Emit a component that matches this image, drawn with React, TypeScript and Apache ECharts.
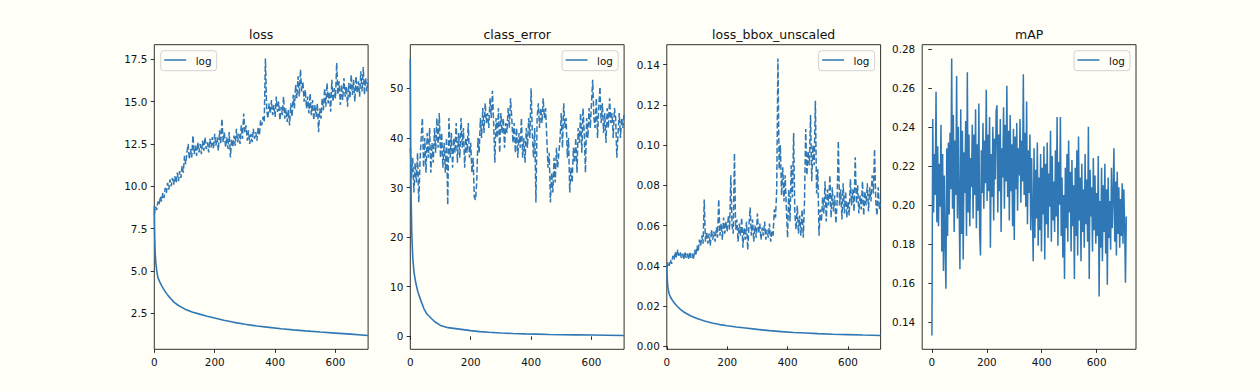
import React, { useEffect, useRef } from "react";
import * as echarts from "echarts";

// ---------------- data ----------------
const TEST_STEP = 4; // dashed (test) series: one value every 4 epochs
const MAP_STEP = 3; // mAP: one value every 3 epochs
const X_LAST = 708;

const subplotTitles = ["loss", "class_error", "loss_bbox_unscaled", "mAP"];
const legendLabel = "log";

const xTicks = [0, 200, 400, 600];
const lossTicks = [2.5, 5, 7.5, 10, 12.5, 15, 17.5];
const classErrorTicks = [0, 10, 20, 30, 40, 50];
const bboxTicks = [0, 0.02, 0.04, 0.06, 0.08, 0.1, 0.12, 0.14];
const mapTicks = [0.14, 0.16, 0.18, 0.2, 0.22, 0.24, 0.26, 0.28];

const trainEpochs = [0, 1, 2, 3, 5, 8, 12, 18, 25, 35, 45, 55, 65, 80, 100, 125, 150, 175, 200, 230, 260, 300, 340, 380, 420, 460, 500, 550, 600, 650, 708];

const trainLoss = [8.8, 7.4, 6.6, 6.0, 5.5, 5.0, 4.6, 4.35, 4.1, 3.8, 3.55, 3.35, 3.15, 2.95, 2.75, 2.57, 2.44, 2.32, 2.21, 2.08, 1.97, 1.84, 1.74, 1.66, 1.58, 1.51, 1.45, 1.38, 1.32, 1.26, 1.18];

const testLoss = [
  8.3, 8.8, 8.6, 9.1, 8.9, 9.4, 9.1, 9.6, 9.3, 9.9,
  9.6, 10.2, 9.8, 10.4, 10.0, 10.5, 10.1, 10.6, 10.2, 10.8,
  10.3, 10.9, 10.5, 11.2, 10.8, 11.8, 11.3, 12.0, 12.5, 11.6,
  12.2, 11.7, 13.0, 11.9, 12.4, 11.8, 12.6, 12.0, 12.5, 11.9,
  12.7, 12.1, 12.9, 12.2, 12.6, 12.0, 12.8, 12.3, 12.9, 12.2,
  13.1, 12.4, 12.9, 12.1, 13.3, 12.5, 14.0, 12.6, 13.2, 12.3,
  12.9, 12.2, 13.2, 11.7, 12.8, 12.3, 13.0, 12.4, 13.4, 12.6,
  13.1, 12.5, 13.6, 12.8, 14.3, 13.2, 13.6, 12.7, 13.3, 12.5,
  13.1, 12.6, 13.4, 12.8, 13.2, 12.7, 13.5, 13.0, 13.9, 13.6,
  14.1, 13.8, 17.55, 14.6, 14.0, 14.9, 14.3, 15.1, 14.2, 14.8,
  14.1, 15.3, 14.4, 15.0, 13.9, 14.7, 14.2, 15.3, 14.0, 14.6,
  13.8, 14.5, 13.6, 14.9, 14.1, 15.4, 14.6, 16.0, 15.2, 16.5,
  15.3, 16.9, 15.6, 16.2, 15.0, 15.7, 14.6, 15.3, 14.3, 15.5,
  14.2, 15.1, 13.9, 14.8, 14.1, 14.9, 13.2, 14.6, 14.0, 15.2,
  14.5, 15.8, 14.7, 16.1, 14.9, 15.6, 14.4, 16.3, 15.0, 15.8,
  15.2, 17.3, 15.4, 16.2, 14.8, 16.0, 15.1, 16.4, 15.3, 15.9,
  14.7, 16.1, 15.2, 16.6, 15.4, 16.3, 15.0, 16.5, 15.5, 16.2,
  15.3, 16.8, 15.6, 17.05, 15.4, 16.4, 15.6, 16.3,
];

const trainClassError = [56, 42, 33, 27, 20.5, 16, 13, 10.8, 9, 7.2, 5.6, 4.5, 3.9, 3.0, 2.2, 1.75, 1.55, 1.35, 1.15, 0.95, 0.82, 0.68, 0.58, 0.5, 0.44, 0.38, 0.33, 0.29, 0.26, 0.22, 0.18];

const testClassError = [
  38, 32, 36, 29, 35, 31, 37, 27, 35, 40,
  44, 34, 40, 33, 41, 36, 42, 33, 39, 35,
  42, 37, 44, 38, 45, 36, 41, 34, 39, 33,
  40, 26.5, 44, 36, 41, 34, 40, 37, 43, 35,
  41, 36, 44, 38, 42, 34, 40, 37, 43, 36,
  39, 33, 36, 28, 27.5, 31, 40, 37, 44, 40,
  46, 41, 47, 43, 45, 42, 48, 44, 49.5, 43,
  35, 44, 40, 46, 37, 45, 41, 44, 38, 43,
  41, 46, 42, 48, 44, 39, 43, 37, 42, 36,
  41, 38, 44, 36, 40, 35, 42, 38, 44, 40,
  50, 41, 36, 42, 27, 44, 47, 42, 46, 43,
  48, 44, 46, 40, 34, 37, 27, 33, 29, 36,
  31, 38, 34, 37, 40, 45, 38, 47, 42, 44,
  36, 40, 29, 34, 31, 38, 35, 40, 33, 42,
  39, 45, 37, 46, 41, 33, 44, 40, 46, 42,
  47, 51.7, 44, 42, 48, 40, 46, 50.3, 43, 47,
  41, 45, 39, 46, 42, 48, 43, 45, 40, 46,
  44, 36, 41, 45, 40, 44, 42, 45,
];

const trainBbox = [0.04, 0.035, 0.032, 0.03, 0.028, 0.026, 0.0245, 0.023, 0.0215, 0.0198, 0.0184, 0.0172, 0.0163, 0.0151, 0.0138, 0.0126, 0.0116, 0.0108, 0.0102, 0.0096, 0.0091, 0.0084, 0.0078, 0.0073, 0.0069, 0.0066, 0.0063, 0.006, 0.0058, 0.0056, 0.0054];

const testBbox = [
  0.039, 0.042, 0.04, 0.043, 0.041, 0.045, 0.043, 0.047, 0.044, 0.048,
  0.045, 0.047, 0.044, 0.046, 0.043, 0.047, 0.044, 0.046, 0.043, 0.047,
  0.044, 0.046, 0.043, 0.048, 0.045, 0.05, 0.047, 0.053, 0.05, 0.055,
  0.051, 0.073, 0.052, 0.057, 0.051, 0.056, 0.05, 0.058, 0.053, 0.057,
  0.052, 0.059, 0.054, 0.073, 0.055, 0.061, 0.053, 0.064, 0.056, 0.062,
  0.057, 0.065, 0.058, 0.085, 0.06, 0.056, 0.096, 0.058, 0.063, 0.052,
  0.061, 0.055, 0.064, 0.049, 0.059, 0.053, 0.062, 0.048, 0.06, 0.069,
  0.055, 0.063, 0.052, 0.06, 0.054, 0.066, 0.056, 0.061, 0.053, 0.059,
  0.055, 0.062, 0.053, 0.058, 0.054, 0.061, 0.052, 0.057, 0.055, 0.068,
  0.064, 0.078, 0.143, 0.088, 0.1, 0.075, 0.089, 0.072, 0.085, 0.068,
  0.054, 0.078, 0.062, 0.09, 0.074, 0.106, 0.066, 0.058, 0.07, 0.056,
  0.065, 0.055, 0.068, 0.054, 0.072, 0.108, 0.085, 0.097, 0.09, 0.115,
  0.082, 0.1, 0.09, 0.122, 0.076, 0.088, 0.055, 0.068, 0.062, 0.074,
  0.066, 0.082, 0.062, 0.078, 0.07, 0.085, 0.064, 0.079, 0.067, 0.075,
  0.061, 0.072, 0.102, 0.07, 0.078, 0.063, 0.081, 0.066, 0.077, 0.064,
  0.072, 0.065, 0.083, 0.07, 0.078, 0.067, 0.094, 0.071, 0.08, 0.066,
  0.075, 0.068, 0.082, 0.065, 0.077, 0.07, 0.081, 0.067, 0.079, 0.072,
  0.085, 0.076, 0.098, 0.072, 0.065, 0.079, 0.068, 0.073,
];

const mapValues = [
  0.133, 0.244, 0.196, 0.226, 0.205, 0.258, 0.191, 0.23, 0.189, 0.221,
  0.199, 0.241, 0.176, 0.226, 0.166, 0.215, 0.18, 0.157, 0.229, 0.184,
  0.232, 0.195, 0.237, 0.208, 0.275, 0.198, 0.246, 0.186, 0.233, 0.205,
  0.266, 0.193, 0.24, 0.201, 0.167, 0.249, 0.185, 0.238, 0.172, 0.227,
  0.206, 0.243, 0.184, 0.268, 0.196, 0.236, 0.189, 0.224, 0.209, 0.241,
  0.193, 0.236, 0.205, 0.249, 0.188, 0.231, 0.197, 0.252, 0.185, 0.174,
  0.228, 0.206, 0.242, 0.198, 0.233, 0.211, 0.259, 0.202, 0.236, 0.207,
  0.245, 0.178, 0.226, 0.204, 0.24, 0.192, 0.234, 0.213, 0.248, 0.251,
  0.196, 0.236, 0.207, 0.244, 0.186, 0.229, 0.214, 0.25, 0.198, 0.241,
  0.212, 0.261, 0.204, 0.238, 0.192, 0.246, 0.207, 0.231, 0.189, 0.239,
  0.182, 0.235, 0.208, 0.242, 0.197, 0.229, 0.215, 0.244, 0.201, 0.233,
  0.212, 0.267, 0.205, 0.237, 0.199, 0.253, 0.19, 0.228, 0.206, 0.236,
  0.187, 0.224, 0.196, 0.171, 0.229, 0.183, 0.218, 0.193, 0.232, 0.179,
  0.214, 0.187, 0.226, 0.176, 0.219, 0.195, 0.23, 0.172, 0.221, 0.19,
  0.232, 0.183, 0.216, 0.199, 0.238, 0.181, 0.225, 0.192, 0.212, 0.186,
  0.228, 0.194, 0.245, 0.179, 0.222, 0.2, 0.245, 0.184, 0.214, 0.173,
  0.205, 0.162, 0.219, 0.188, 0.226, 0.181, 0.233, 0.196, 0.217, 0.176,
  0.223, 0.189, 0.21, 0.162, 0.219, 0.184, 0.228, 0.174, 0.235, 0.192,
  0.214, 0.171, 0.221, 0.186, 0.208, 0.178, 0.226, 0.19, 0.213, 0.181,
  0.24, 0.162, 0.218, 0.194, 0.209, 0.176, 0.224, 0.187, 0.215, 0.18,
  0.206, 0.184, 0.225, 0.153, 0.202, 0.178, 0.219, 0.171, 0.21, 0.186,
  0.221, 0.175, 0.208, 0.159, 0.214, 0.183, 0.202, 0.177, 0.219, 0.188,
  0.205, 0.229, 0.181, 0.212, 0.174, 0.217, 0.185, 0.209, 0.178, 0.203,
  0.184, 0.211, 0.18, 0.208, 0.19, 0.16, 0.194,
];

// ---------------- style / layout ----------------
const BG = "#fffef7";
const LINE = "#2f78b5";
const FONT = "DejaVu Sans, sans-serif";
const GRID_LEFTS = [154.3, 410.3, 666.8, 922.2];
const GRID_TOP = 44.7;
const GRID_W = 213.8;
const GRID_H = 304.6;

function padExtent(values: number[], frac = 0.05): [number, number] {
  const lo = Math.min(...values);
  const hi = Math.max(...values);
  const p = (hi - lo) * frac;
  return [lo - p, hi + p];
}

const sampled = (vals: number[], step: number) => vals.map((v, i) => [i * step, v]);
const paired = (xs: number[], vals: number[]) => vals.map((v, i) => [xs[i], v]);

export default function App() {
  const ref = useRef<HTMLDivElement>(null);

  useEffect(() => {
    document.body.style.margin = "0";
    document.body.style.background = BG;
    const chart = echarts.init(ref.current!, null, { renderer: "svg" });

    const panels = [
      { title: subplotTitles[0], train: trainLoss, test: testLoss, step: TEST_STEP, ticks: lossTicks, dec: 1, legend: "left" },
      { title: subplotTitles[1], train: trainClassError, test: testClassError, step: TEST_STEP, ticks: classErrorTicks, dec: 0, legend: "right" },
      { title: subplotTitles[2], train: trainBbox, test: testBbox, step: TEST_STEP, ticks: bboxTicks, dec: 2, legend: "right" },
      { title: subplotTitles[3], train: null as number[] | null, test: mapValues, step: MAP_STEP, ticks: mapTicks, dec: 2, legend: "right" },
    ];

    const grids: any[] = [];
    const xAxes: any[] = [];
    const yAxes: any[] = [];
    const series: any[] = [];
    const graphics: any[] = [];

    panels.forEach((p, i) => {
      const left = GRID_LEFTS[i];
      grids.push({
        left, top: GRID_TOP, width: GRID_W, height: GRID_H,
        show: true, borderColor: "#1a1a1a", borderWidth: 0.9, backgroundColor: "transparent",
      });
      const isMap = p.train === null;
      const xExt: [number, number] = isMap ? padExtent([0, X_LAST]) : [0, X_LAST];
      const yExt = padExtent(p.train ? [...p.train, ...p.test] : p.test);
      xAxes.push({
        type: "value", gridIndex: i, min: xExt[0], max: xExt[1],
        axisLine: { show: false }, splitLine: { show: false },
        axisTick: { show: true, length: 3.6, lineStyle: { color: "#1a1a1a", width: 0.9 }, customValues: xTicks },
        axisLabel: { customValues: xTicks, margin: 7.5, fontSize: 10.4, fontFamily: FONT, color: "#111", formatter: (v: number) => String(Math.round(v)) },
      });
      yAxes.push({
        type: "value", gridIndex: i, min: yExt[0], max: yExt[1],
        axisLine: { show: false }, splitLine: { show: false },
        axisTick: { show: true, length: 3.6, lineStyle: { color: "#1a1a1a", width: 0.9 }, customValues: p.ticks },
        axisLabel: { customValues: p.ticks, margin: 7, fontSize: 10.4, fontFamily: FONT, color: "#111", formatter: (v: number) => v.toFixed(p.dec) },
      });
      if (p.train) {
        series.push({
          type: "line", name: legendLabel, xAxisIndex: i, yAxisIndex: i,
          data: paired(trainEpochs, p.train), showSymbol: false, symbol: "none",
          lineStyle: { color: LINE, width: 1.6 }, itemStyle: { color: LINE }, silent: true,
        });
        series.push({
          type: "line", name: legendLabel, xAxisIndex: i, yAxisIndex: i,
          data: sampled(p.test, p.step), showSymbol: false, symbol: "none",
          lineStyle: { color: LINE, width: 1.5, type: [5.8, 2.5] }, itemStyle: { color: LINE }, silent: true,
        });
      } else {
        series.push({
          type: "line", name: legendLabel, xAxisIndex: i, yAxisIndex: i,
          data: sampled(p.test, p.step), showSymbol: false, symbol: "none",
          lineStyle: { color: LINE, width: 1.5 }, itemStyle: { color: LINE }, silent: true,
        });
      }

      // title
      graphics.push({
        type: "text", x: left + GRID_W / 2, y: 34.4, silent: true,
        style: { text: p.title, font: `12.5px ${FONT}`, fill: "#111", textAlign: "center", textVerticalAlign: "middle" },
      });
      // legend
      const bw = 56, bh = 20;
      const bx = p.legend === "left" ? left + 6.4 : left + GRID_W - 6 - bw;
      const by = GRID_TOP + 6;
      graphics.push({
        type: "group", silent: true,
        children: [
          { type: "rect", shape: { x: bx, y: by, width: bw, height: bh, r: 3 }, style: { fill: "rgba(255,254,247,0.8)", stroke: "#d2d2d2", lineWidth: 1 } },
          { type: "line", shape: { x1: bx + 3.5, y1: by + 9.3, x2: bx + 25.5, y2: by + 9.3 }, style: { stroke: LINE, lineWidth: 1.5 } },
          { type: "text", x: bx + 35, y: by + 9.8, style: { text: legendLabel, font: `10.4px ${FONT}`, fill: "#111", textVerticalAlign: "middle" } },
        ],
      });
    });

    chart.setOption({
      animation: false,
      backgroundColor: BG,
      grid: grids,
      xAxis: xAxes,
      yAxis: yAxes,
      series,
      graphic: graphics,
    });
    return () => chart.dispose();
  }, []);

  return <div ref={ref} style={{ width: 1260, height: 392 }} />;
}
